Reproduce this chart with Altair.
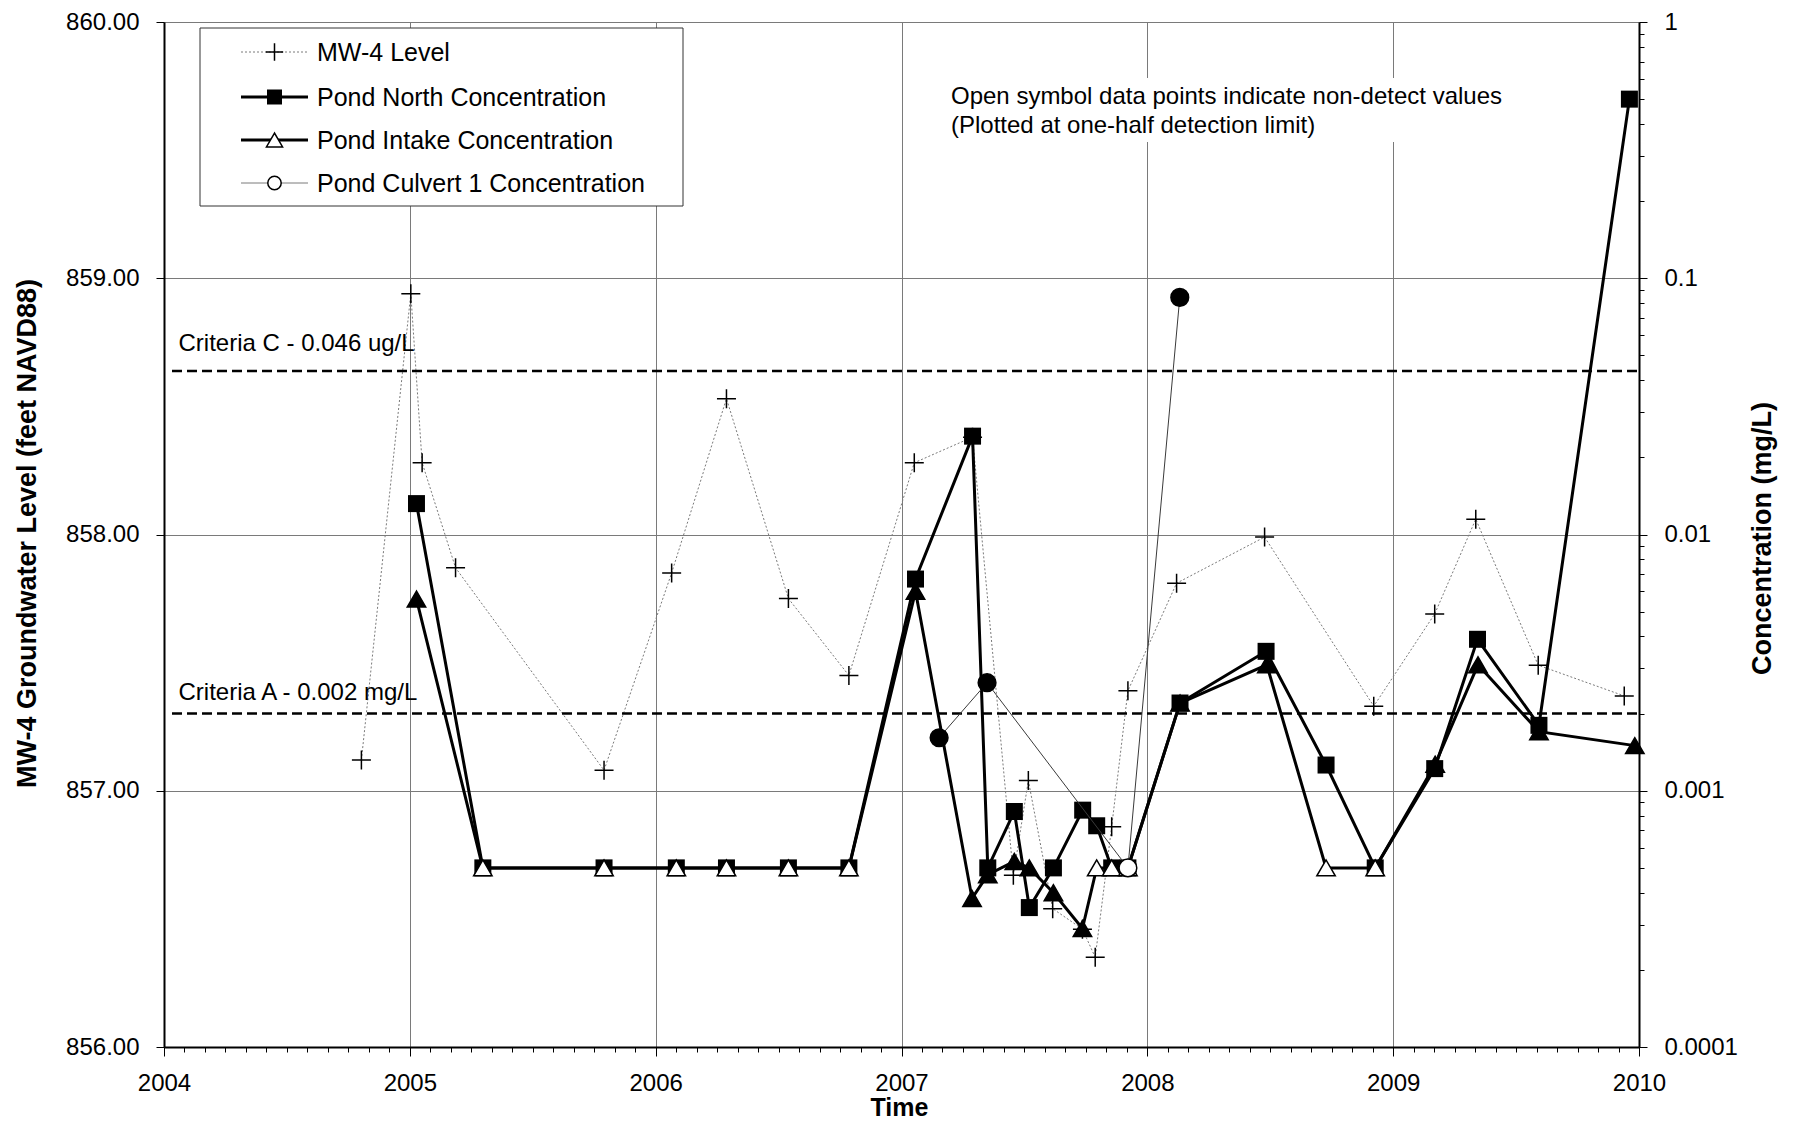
import math
import altair as alt
import pandas as pd

# ---------------- data ----------------
mw4_year = [2004.803, 2005.004, 2005.050, 2005.186, 2005.790, 2006.065, 2006.288,
            2006.540, 2006.786, 2007.052, 2007.289, 2007.455, 2007.516, 2007.615,
            2007.736, 2007.788, 2007.855, 2007.921, 2008.119, 2008.477, 2008.921,
            2009.169, 2009.336, 2009.590, 2009.940]
mw4_level = [857.12, 858.94, 858.28, 857.87, 857.08, 857.85, 858.53,
             857.75, 857.45, 858.28, 858.38, 856.67, 857.04, 856.54,
             856.46, 856.35, 856.86, 857.39, 857.81, 857.99, 857.33,
             857.69, 858.06, 857.49, 857.37]

north_year = [2005.027, 2005.297, 2005.790, 2006.084, 2006.288, 2006.540, 2006.786,
              2007.057, 2007.289, 2007.351, 2007.459, 2007.520, 2007.618, 2007.737,
              2007.794, 2007.855, 2007.921, 2008.133, 2008.483, 2008.727, 2008.927,
              2009.169, 2009.343, 2009.593, 2009.961]
north_conc = [0.0132, 0.0005, 0.0005, 0.0005, 0.0005, 0.0005, 0.0005,
              0.0067, 0.0242, 0.0005, 0.00083, 0.00035, 0.0005, 0.00084,
              0.00073, 0.0005, 0.0005, 0.0022, 0.0035, 0.00126, 0.0005,
              0.00122, 0.0039, 0.0018, 0.50]

intake_year = [2005.027, 2005.297, 2005.790, 2006.084, 2006.288, 2006.540, 2006.786,
               2007.057, 2007.287, 2007.351, 2007.459, 2007.520, 2007.618, 2007.736,
               2007.794, 2007.855, 2007.921, 2008.133, 2008.486, 2008.727, 2008.927,
               2009.171, 2009.345, 2009.593, 2009.983]
intake_conc = [0.0056, 0.0005, 0.0005, 0.0005, 0.0005, 0.0005, 0.0005,
               0.0060, 0.00038, 0.00047, 0.00053, 0.0005, 0.00040, 0.00029,
               0.0005, 0.0005, 0.0005, 0.0022, 0.0031, 0.0005, 0.0005,
               0.00127, 0.0031, 0.0017, 0.0015]
intake_detect = [1, 0, 0, 0, 0, 0, 0,
                 1, 1, 1, 1, 1, 1, 1,
                 0, 0, 0, 1, 1, 0, 0,
                 1, 1, 1, 1]

culvert_year = [2007.153, 2007.348, 2007.921, 2008.132]
culvert_conc = [0.00161, 0.00264, 0.0005, 0.0842]
culvert_detect = [1, 1, 0, 1]

criteria_labels = ["Criteria C - 0.046 ug/L", "Criteria A - 0.002 mg/L"]
criteria_values = [0.0435, 0.002]

legend_labels = ["MW-4 Level", "Pond North Concentration",
                 "Pond Intake Concentration", "Pond Culvert 1 Concentration"]
note_lines = ["Open symbol data points indicate non-detect values",
              "(Plotted at one-half detection limit)"]

year_ticks = list(range(2004, 2011))
level_ticks = [856, 857, 858, 859, 860]
conc_decades = [0.0001, 0.001, 0.01, 0.1, 1]

# ---------------- tables ----------------
mw4 = pd.DataFrame({"year": mw4_year, "level": mw4_level})
north = pd.DataFrame({"year": north_year, "conc": north_conc})
intake = pd.DataFrame({"year": intake_year, "conc": intake_conc, "detect": intake_detect})
culvert = pd.DataFrame({"year": culvert_year, "conc": culvert_conc, "detect": culvert_detect})
criteria = pd.DataFrame({"label": criteria_labels, "conc": criteria_values})
one = pd.DataFrame({"k": [0]})

# ---------------- layout / style ----------------
W, H = 1475, 1025
TOP = 14
FONT = "Liberation Sans"
PLUS = "M-1,0L1,0M0,-1L0,1"
GRID = "#7a7a7a"

month_ticks = [round(2004 + i / 12, 6) for i in range(6 * 12 + 1) if i % 12 != 0]
conc_minor = []
for d in conc_decades[:-1]:
    e = int(round(math.log10(d)))
    for m in range(2, 10):
        conc_minor.append(float(f"{m}e{e}"))

XSCALE = alt.Scale(domain=[2004, 2010], nice=False, zero=False)
YSCALE_R = alt.Scale(type="log", domain=[0.0001, 1], nice=False)

X_MAJOR = alt.X(
    "year:Q", scale=XSCALE,
    axis=alt.Axis(
        orient="bottom", values=year_ticks, format="d",
        labelOverlap=False, labelFlush=False,
        grid=True, gridColor=GRID, gridWidth=1,
        tickSize=9, tickColor="black", tickWidth=1,
        domainColor="black", domainWidth=2,
        labelFontSize=24, labelBaseline="middle", labelPadding=27,
        title="Time", titleFontSize=25, titleFontWeight="bold",
        titleX=735, titleY=60.5, titleBaseline="middle", titleAlign="center",
    ),
)
X_MINOR = alt.X(
    "year:Q", scale=XSCALE,
    axis=alt.Axis(
        orient="bottom", values=month_ticks, labels=False, grid=False, domain=False,
        tickSize=5, tickColor="black", tickWidth=1, title=None,
    ),
)

Y_LEFT = alt.Y(
    "level:Q",
    scale=alt.Scale(domain=[856, 860], nice=False, zero=False),
    axis=alt.Axis(
        values=level_ticks, format=".2f",
        grid=True, gridColor=GRID, gridWidth=1,
        tickSize=8, tickColor="black",
        domainColor="black", domainWidth=2,
        labelFontSize=24, labelPadding=17, labelFlush=False,
        title="MW-4 Groundwater Level (feet NAVD88)",
        titleFontSize=27, titleFontWeight="bold",
        titleX=-137, titleY=511, titleAngle=270,
        titleBaseline="middle", titleAlign="center",
    ),
)

Y_RIGHT_MAJOR = alt.Y(
    "conc:Q", scale=YSCALE_R,
    axis=alt.Axis(
        orient="right", values=conc_decades, format="~g",
        labelOverlap=False, labelFlush=False,
        grid=False, tickSize=8, tickColor="black",
        domainColor="black", domainWidth=2,
        labelFontSize=24, labelPadding=17,
        title="Concentration (mg/L)",
        titleFontSize=27, titleFontWeight="bold",
        titleX=123, titleY=516, titleAngle=270,
        titleBaseline="middle", titleAlign="center",
    ),
)
Y_RIGHT_MINOR = alt.Y(
    "conc:Q", scale=YSCALE_R,
    axis=alt.Axis(orient="right", values=conc_minor, labels=False, grid=False, domain=False,
                  tickSize=5, tickColor="black", title=None),
)
Y_RIGHT = alt.Y("conc:Q", scale=YSCALE_R, axis=None)

# ---------------- left (groundwater level) ----------------
mw4_line = alt.Chart(mw4).mark_line(color=GRID, strokeWidth=1, strokeDash=[2, 2]).encode(
    x=X_MINOR, y=Y_LEFT)
mw4_pts = alt.Chart(mw4).mark_point(shape=PLUS, size=361, filled=False, color="black",
                                    strokeWidth=1.5, opacity=1).encode(x=X_MINOR, y=Y_LEFT)
left = alt.layer(mw4_line, mw4_pts)

# ---------------- right (concentration) ----------------
X = X_MAJOR
crit_rule = alt.Chart(criteria).mark_rule(color="black", strokeWidth=2.5, strokeDash=[10, 5]).encode(
    y=Y_RIGHT_MAJOR, x=alt.value(8), x2=alt.value(W))
minor_axis_carrier = alt.Chart(criteria).mark_rule(opacity=0).encode(
    y=Y_RIGHT_MINOR, x=alt.value(0), x2=alt.value(1))
crit_c = alt.Chart(criteria.iloc[[0]]).mark_text(align="left", baseline="alphabetic", dy=-20,
                                               font=FONT, fontSize=24, color="black").encode(
    y=Y_RIGHT, x=alt.value(14.5), text="label:N")
crit_a = alt.Chart(criteria.iloc[[1]]).mark_text(align="left", baseline="alphabetic", dy=-14,
                                               font=FONT, fontSize=24, color="black").encode(
    y=Y_RIGHT, x=alt.value(14.5), text="label:N")

north_line = alt.Chart(north).mark_line(color="black", strokeWidth=3).encode(x=X, y=Y_RIGHT)
north_pts = alt.Chart(north).mark_point(shape="square", size=289, filled=True, color="black",
                                        opacity=1).encode(x=X, y=Y_RIGHT)

fill_cond = alt.condition("datum.detect == 1", alt.value("black"), alt.value("white"))
intake_line = alt.Chart(intake).mark_line(color="black", strokeWidth=3).encode(x=X, y=Y_RIGHT)
intake_pts = alt.Chart(intake).mark_point(shape="triangle-up", size=340, filled=True, stroke="black",
                                          strokeWidth=1.5, opacity=1).encode(x=X, y=Y_RIGHT, fill=fill_cond)

culvert_line = alt.Chart(culvert).mark_line(color="#3a3a3a", strokeWidth=1).encode(x=X, y=Y_RIGHT)
culvert_pts = alt.Chart(culvert).mark_point(shape="circle", size=314, filled=True, stroke="black",
                                            strokeWidth=1.5, opacity=1).encode(x=X, y=Y_RIGHT, fill=fill_cond)

# annotation with white backing
note_bg = alt.Chart(one).mark_rect(fill="white").encode(
    x=alt.value(780), x2=alt.value(1346), y=alt.value(56), y2=alt.value(120))
note1 = alt.Chart(one).mark_text(align="left", baseline="alphabetic", font=FONT, fontSize=24,
                                 color="black").encode(x=alt.value(787), y=alt.value(82),
                                                       text=alt.value(note_lines[0]))
note2 = alt.Chart(one).mark_text(align="left", baseline="alphabetic", font=FONT, fontSize=24,
                                 color="black").encode(x=alt.value(787), y=alt.value(111),
                                                       text=alt.value(note_lines[1]))

# legend box
leg_box = alt.Chart(one).mark_rect(fill="white", stroke="#333333", strokeWidth=1).encode(
    x=alt.value(36), x2=alt.value(519), y=alt.value(6), y2=alt.value(184))
leg_rows = [30, 75, 118, 161]
leg_layers = [leg_box]
line_styles = [
    dict(color=GRID, strokeWidth=1, strokeDash=[2, 2]),
    dict(color="black", strokeWidth=3),
    dict(color="black", strokeWidth=3),
    dict(color=GRID, strokeWidth=1),
]
sym_styles = [
    dict(shape=PLUS, size=300, filled=False, color="black", strokeWidth=1.5, opacity=1),
    dict(shape="square", size=225, filled=True, color="black", opacity=1),
    dict(shape="triangle-up", size=260, filled=True, fill="white", stroke="black", strokeWidth=1.5, opacity=1),
    dict(shape="circle", size=180, filled=True, fill="white", stroke="black", strokeWidth=1.5, opacity=1),
]
for i, lab in enumerate(legend_labels):
    yy = leg_rows[i]
    leg_layers.append(alt.Chart(one).mark_rule(**line_styles[i]).encode(
        x=alt.value(77), x2=alt.value(144), y=alt.value(yy)))
    leg_layers.append(alt.Chart(one).mark_point(**sym_styles[i]).encode(
        x=alt.value(110.5), y=alt.value(yy)))
    leg_layers.append(alt.Chart(one).mark_text(align="left", baseline="middle", font=FONT,
                                               fontSize=25, color="black").encode(
        x=alt.value(153), y=alt.value(yy + 1), text=alt.value(lab)))

right = alt.layer(crit_rule, minor_axis_carrier, crit_c, crit_a,
                  north_line, north_pts, intake_line, intake_pts,
                  culvert_line, culvert_pts,
                  note_bg, note1, note2, *leg_layers).resolve_axis(y="independent")

chart = alt.layer(left, right).resolve_scale(y="independent").resolve_axis(
    x="independent", y="independent").properties(
    width=W, height=H,
    padding={"left": 156, "top": TOP, "right": 147, "bottom": 73},
    autosize=alt.AutoSizeParams(type="none"),
).configure_view(stroke="#8a8a8a", strokeWidth=2).configure_axis(
    labelFont=FONT, titleFont=FONT, labelColor="black", titleColor="black"
).configure(background="white")

chart.save("out.html", embed_options={"renderer": "svg", "actions": False})
